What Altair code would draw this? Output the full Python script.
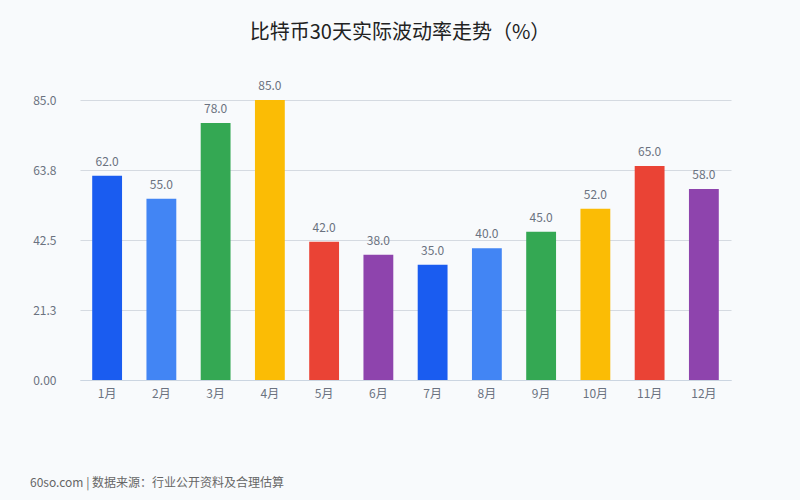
import altair as alt
import pandas as pd

months = ["1月", "2月", "3月", "4月", "5月", "6月", "7月", "8月", "9月", "10月", "11月", "12月"]
values = [62.0, 55.0, 78.0, 85.0, 42.0, 38.0, 35.0, 40.0, 45.0, 52.0, 65.0, 58.0]
colors = ["#1a5cf0", "#4285f4", "#34a853", "#fbbc05", "#ea4335", "#8e44ad",
          "#1a5cf0", "#4285f4", "#34a853", "#fbbc05", "#ea4335", "#8e44ad"]
y_ticks = [0, 21.25, 42.5, 63.75, 85]
title_text = "比特币30天实际波动率走势（%）"
footer_text = "60so.com | 数据来源：行业公开资料及合理估算"

df = pd.DataFrame({"month": months, "value": values, "color": colors})

FONT = "Noto Sans CJK SC"

base = alt.Chart(df)

x_enc = alt.X("month:N", sort=months, title=None,
              scale=alt.Scale(paddingInner=0.45, paddingOuter=0.225),
              axis=alt.Axis(labelAngle=0, labelColor="#6b7280", labelFontSize=12,
                            labelFont=FONT, labelPadding=8, ticks=False,
                            domainColor="#cbd5e1", grid=False))
y_enc = alt.Y("value:Q", title=None,
              scale=alt.Scale(domain=[0, 85], nice=False),
              axis=alt.Axis(values=y_ticks, labelColor="#6b7280", labelFontSize=12,
                            labelFont=FONT, labelPadding=24, ticks=False, domain=False,
                            gridColor="#d5dae1",
                            labelExpr="datum.value == 0 ? '0.00' : format(datum.value, '.1f')"))

bars = base.mark_bar().encode(
    x=x_enc, y=y_enc,
    color=alt.Color("color:N", scale=None),
)

labels = base.mark_text(dy=-7, fontSize=12, color="#6b7280", font=FONT, baseline="bottom").encode(
    x=alt.X("month:N", sort=months),
    y="value:Q",
    text=alt.Text("value:Q", format=".1f"),
)

title = alt.Chart(pd.DataFrame({"t": [title_text]})).mark_text(
    fontSize=20, color="#222222", font=FONT, align="center", baseline="middle"
).encode(text="t:N", x=alt.value(320), y=alt.value(-67))

footer = alt.Chart(pd.DataFrame({"t": [footer_text]})).mark_text(
    fontSize=12, color="#666666", font=FONT, align="left", baseline="middle"
).encode(text="t:N", x=alt.value(-50), y=alt.value(383))

chart = alt.layer(bars, labels, title, footer).properties(
    width=651, height=280,
    autosize=alt.AutoSizeParams(type="none"),
    padding={"left": 80, "top": 100, "right": 69, "bottom": 120},
    background="#f8fafc",
).configure_view(stroke=None)

chart.save("out.html", embed_options={"renderer": "svg", "actions": False})
